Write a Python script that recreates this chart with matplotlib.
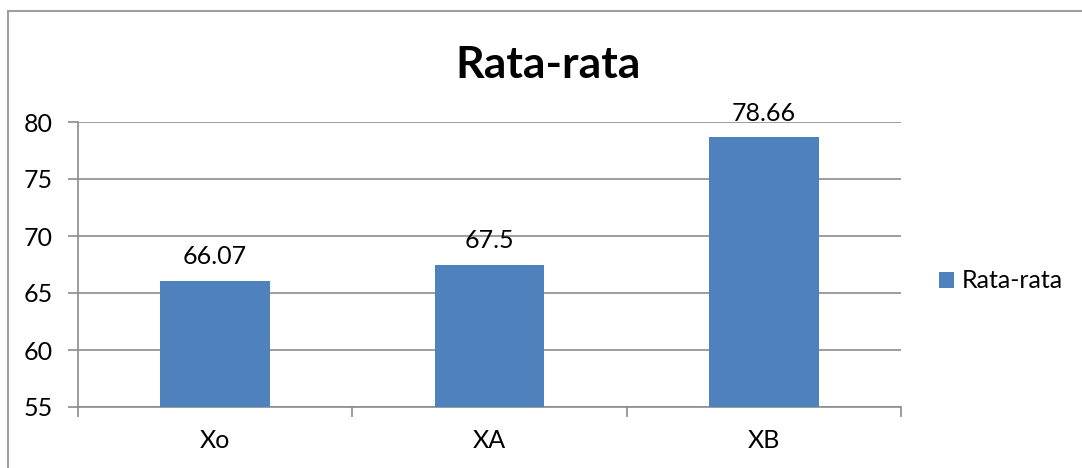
import matplotlib.pyplot as plt
from matplotlib.patches import Rectangle

categories = ["Xo", "XA", "XB"]
values = [66.07, 67.5, 78.66]
value_labels = ["66.07", "67.5", "78.66"]
series_name = "Rata-rata"
y_ticks = [55, 60, 65, 70, 75, 80]

BAR_COLOR = "#4F81BD"
GRID_COLOR = "#8C8C8C"

plt.rcParams["font.family"] = ["Lato", "DejaVu Sans"]

W, H = 1082, 468
fig = plt.figure(figsize=(W / 100, H / 100), dpi=100)

# chart frame, cropped at the right and bottom of the canvas
fig.patches.append(Rectangle((8 / W, -0.1), 1.2, (H - 11) / H + 0.1,
                             transform=fig.transFigure, fill=False,
                             edgecolor="#A0A0A0", linewidth=1.5))

ax = fig.add_axes([78 / W, 1 - 407 / H, (901 - 78) / W, (407 - 122) / H])

x = range(len(categories))
bars = ax.bar(x, [v - y_ticks[0] for v in values], bottom=y_ticks[0],
              width=0.4, color=BAR_COLOR, label=series_name, zorder=3)
for xi, v, lab in zip(x, values, value_labels):
    ax.annotate(lab, (xi, v), xytext=(0, 9), textcoords="offset points",
                ha="center", va="bottom", fontsize=18)

ax.set_xlim(-0.5, len(categories) - 0.5)
ax.set_ylim(y_ticks[0], y_ticks[-1])
ax.set_yticks(y_ticks)
ax.set_xticks(list(x))
ax.set_xticklabels(categories)
ax.set_xticks([i - 0.5 for i in range(len(categories) + 1)], minor=True)

ax.yaxis.grid(True, color=GRID_COLOR, linewidth=1.2, zorder=0)
for s in ["top", "right"]:
    ax.spines[s].set_visible(False)
for s in ["left", "bottom"]:
    ax.spines[s].set_color(GRID_COLOR)
    ax.spines[s].set_linewidth(1.2)

ax.tick_params(axis="y", length=7, width=1.2, color=GRID_COLOR,
               labelsize=18, pad=11)
ax.tick_params(axis="x", which="major", length=0, labelsize=18, pad=16)
ax.tick_params(axis="x", which="minor", length=7, width=1.2, color=GRID_COLOR)

fig.text(548 / W, 1 - 65 / H, "Rata-rata", ha="center", va="center",
         fontsize=32, fontweight="bold")

ax.legend(loc="center left", bbox_to_anchor=(939 / W, 1 - 281 / H),
          bbox_transform=fig.transFigure, frameon=False, fontsize=18,
          handlelength=0.6, handleheight=0.6, handletextpad=0.3,
          borderaxespad=0, borderpad=0)

fig.savefig("out.png", dpi=100)
